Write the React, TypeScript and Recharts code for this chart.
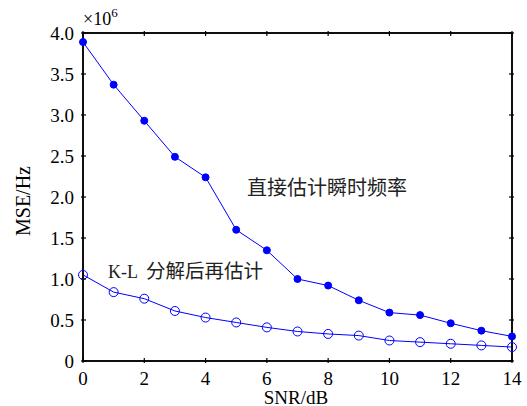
import { LineChart, Line, XAxis, YAxis, ReferenceArea } from "recharts";

// SNR (dB) on the x axis
const snr = [0, 1, 2, 3, 4, 5, 6, 7, 8, 9, 10, 11, 12, 13, 14];
// MSE in units of 1e6 Hz
const directMse = [3.89, 3.37, 2.93, 2.49, 2.24, 1.6, 1.35, 1.0, 0.92, 0.74, 0.59, 0.56, 0.46, 0.37, 0.3];
const klMse = [1.05, 0.84, 0.76, 0.61, 0.53, 0.47, 0.41, 0.36, 0.33, 0.31, 0.25, 0.23, 0.21, 0.19, 0.17];

const xTicks = [0, 2, 4, 6, 8, 10, 12, 14];
const yTicks = [0, 0.5, 1, 1.5, 2, 2.5, 3, 3.5, 4];

const data = snr.map((s, i) => ({ snr: s, direct: directMse[i], kl: klMse[i] }));

const serif = "'Liberation Serif', 'Times New Roman', serif";
const cjk = "'Noto Sans CJK SC', sans-serif";
const blue = "#0000ff";
const ink = "#000";
const TICK = 5;

const fmtY = (v: number) => (v === 0 ? "0" : v.toFixed(1));

// ticks point into the plot; with tickSize 0 the (x, y) given is on the axis line
const BottomTick = (props: any) => {
  const { x, y, payload } = props;
  return (
    <g>
      <line x1={x} y1={y} x2={x} y2={y - TICK} stroke={ink} strokeWidth={1.2} />
      <text x={x} y={y + 22} textAnchor="middle" fontFamily={serif} fontSize={19} fill={ink}>
        {payload.value}
      </text>
    </g>
  );
};

const TopTick = (props: any) => {
  const { x, y } = props;
  return <line x1={x} y1={y} x2={x} y2={y + TICK} stroke={ink} strokeWidth={1.2} />;
};

const LeftTick = (props: any) => {
  const { x, y, payload } = props;
  return (
    <g>
      <line x1={x} y1={y} x2={x + TICK} y2={y} stroke={ink} strokeWidth={1.2} />
      <text x={x - 7} y={y + 6.5} textAnchor="end" fontFamily={serif} fontSize={19} fill={ink}>
        {fmtY(payload.value)}
      </text>
    </g>
  );
};

const RightTick = (props: any) => {
  const { x, y } = props;
  return <line x1={x} y1={y} x2={x - TICK} y2={y} stroke={ink} strokeWidth={1.2} />;
};

// titles and annotations, laid over the chart
const Labels = () => (
  <svg
    width={527}
    height={406}
    style={{ position: "absolute", left: 0, top: 0, pointerEvents: "none" }}
  >
    <text x={83} y={25} fontFamily={serif} fontSize={18} fill={ink}>
      ×10<tspan dy={-8} fontSize={13}>6</tspan>
    </text>
    <text x={296} y={404} textAnchor="middle" fontFamily={serif} fontSize={19} fill={ink}>
      SNR/dB
    </text>
    <text
      x={30}
      y={201}
      textAnchor="middle"
      transform="rotate(-90 30 201)"
      fontFamily={serif}
      fontSize={20}
      fill={ink}
    >
      MSE/Hz
    </text>
    <text x={247} y={195} fontFamily={cjk} fontSize={20} fill="#222">
      直接估计瞬时频率
    </text>
    <text x={108} y={278} fontFamily={serif} fontSize={18} fill="#222">
      K-L
      <tspan fontFamily={cjk} fontSize={19.5} dx={8}>
        分解后再估计
      </tspan>
    </text>
  </svg>
);

export default function App() {
  return (
    <div style={{ position: "absolute", left: 0, top: 0, width: 527, height: 406 }}>
      <LineChart width={527} height={406} data={data} margin={{ top: 28, right: 10, bottom: 0, left: 0 }}>
        <XAxis
          dataKey="snr"
          type="number"
          domain={[0, 14]}
          ticks={xTicks}
          height={45}
          tickSize={0}
          tickLine={false}
          axisLine={{ stroke: ink, strokeWidth: 1.5 }}
          tick={BottomTick}
          interval={0}
        />
        <XAxis
          xAxisId="top"
          dataKey="snr"
          orientation="top"
          type="number"
          domain={[0, 14]}
          ticks={xTicks}
          height={5}
          tickSize={0}
          tickLine={false}
          axisLine={{ stroke: ink, strokeWidth: 1.5 }}
          tick={TopTick}
          interval={0}
        />
        <YAxis
          type="number"
          domain={[0, 4]}
          ticks={yTicks}
          width={83}
          tickSize={0}
          tickLine={false}
          axisLine={{ stroke: ink, strokeWidth: 1.5 }}
          tick={LeftTick}
          interval={0}
        />
        <YAxis
          yAxisId="right"
          orientation="right"
          type="number"
          domain={[0, 4]}
          ticks={yTicks}
          width={5}
          tickSize={0}
          tickLine={false}
          axisLine={{ stroke: ink, strokeWidth: 1.5 }}
          tick={RightTick}
          interval={0}
        />
        <ReferenceArea x1={0} x2={14} y1={0} y2={4} fill="none" stroke={ink} strokeWidth={1.5} />
        {/* invisible series so the top/right frame axes get drawn */}
        <Line xAxisId="top" yAxisId="right" dataKey="direct" stroke="none" dot={false} isAnimationActive={false} />
        <Line
          dataKey="direct"
          stroke={blue}
          strokeWidth={1}
          dot={{ r: 3.5, fill: blue, stroke: blue, strokeWidth: 1 }}
          isAnimationActive={false}
        />
        <Line
          dataKey="kl"
          stroke={blue}
          strokeWidth={1}
          dot={{ r: 4.5, fill: "none", stroke: blue, strokeWidth: 1 }}
          isAnimationActive={false}
        />
      </LineChart>
      <Labels />
    </div>
  );
}
